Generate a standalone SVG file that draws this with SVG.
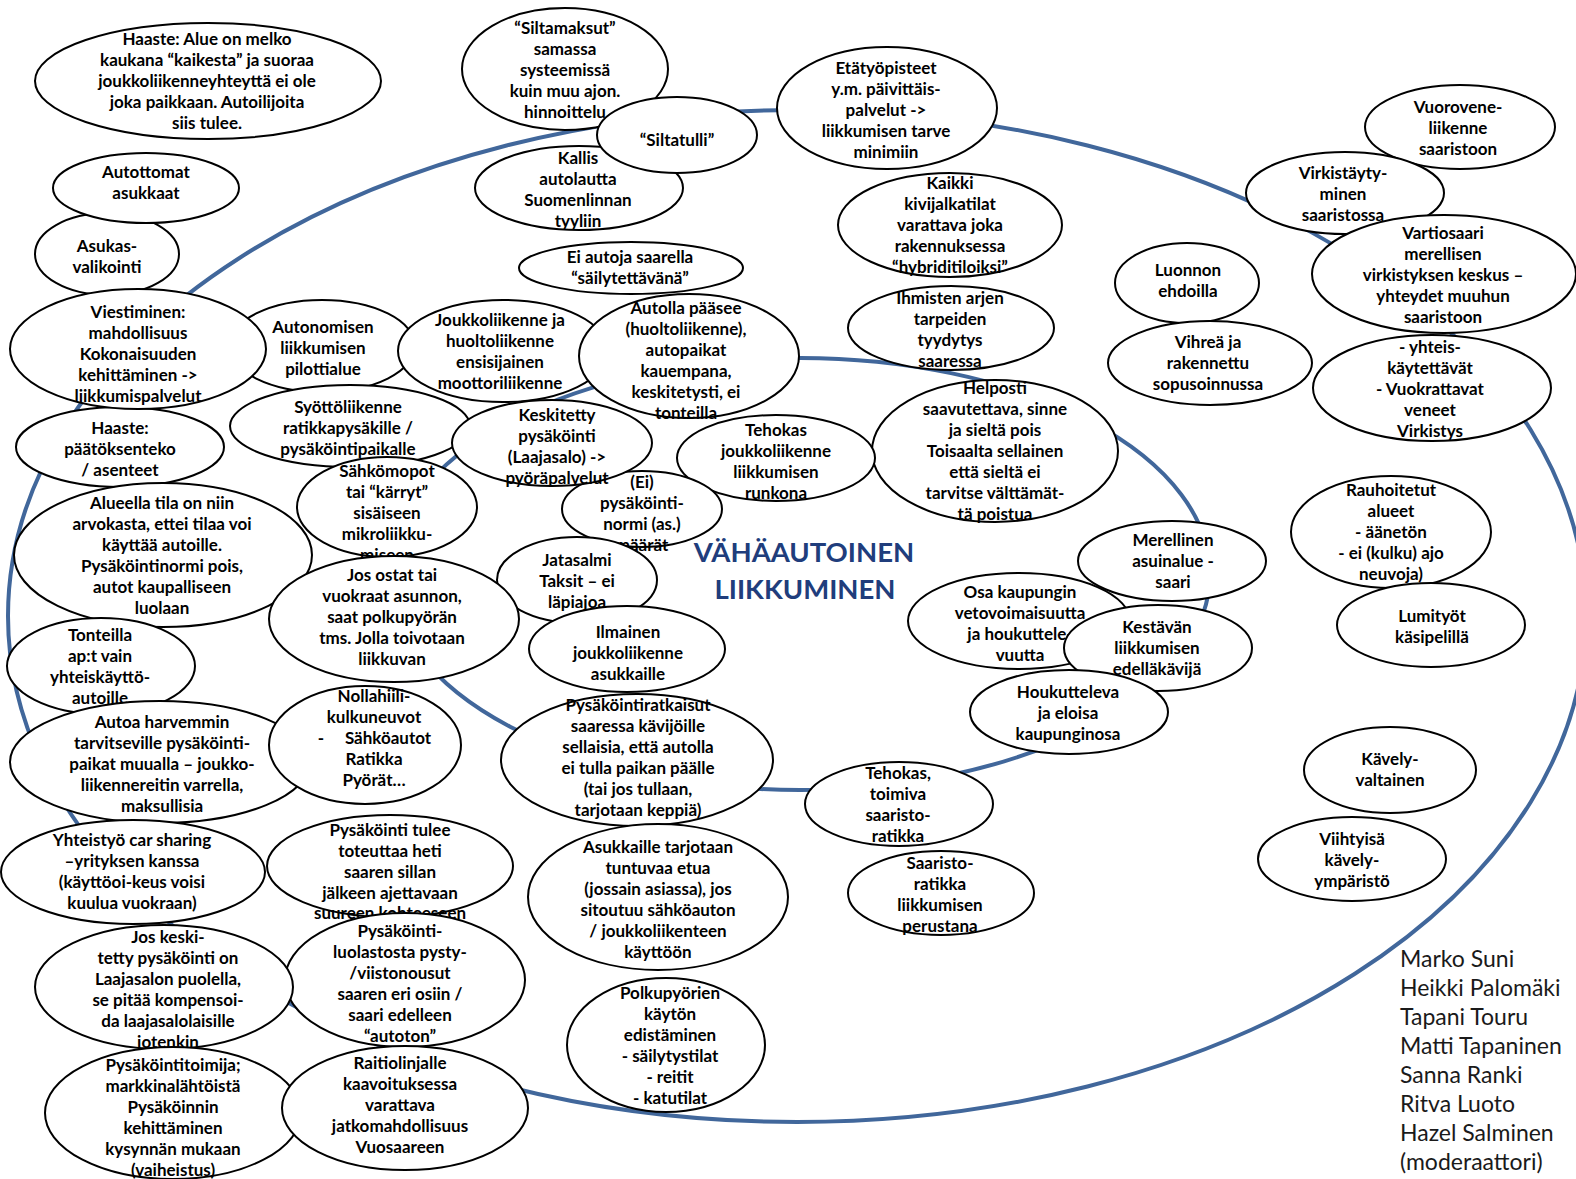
<svg xmlns="http://www.w3.org/2000/svg" width="1576" height="1179" viewBox="0 0 1576 1179">
<style>
.n ellipse{fill:#fff;stroke:#000;stroke-width:2}
.n text{font-family:Lato,"Liberation Sans",sans-serif;font-weight:700;font-size:17px;text-anchor:middle;fill:#000}
.ring{fill:none;stroke:#41679B;stroke-width:4}
.title{font-family:Lato,"Liberation Sans",sans-serif;font-weight:700;font-size:27.5px;text-anchor:middle;fill:#203D7C}
.names{font-family:Lato,"Liberation Sans",sans-serif;font-weight:400;font-size:23px;fill:#1a1a1a}
</style>
<rect width="1576" height="1179" fill="#fff"/>
<g id="connectors">
<ellipse class="ring" cx="797" cy="616" rx="789" ry="506"/>
<ellipse class="ring" cx="800" cy="574" rx="410" ry="216"/>
</g>
<g id="title"><text class="title" x="804" y="562">VÄHÄAUTOINEN</text><text class="title" x="805" y="599">LIIKKUMINEN</text></g>

<g id="n8" class="n"><ellipse cx="565" cy="69" rx="103" ry="61"/><text x="565" y="34"><tspan x="565">“Siltamaksut”</tspan><tspan x="565" dy="21">samassa</tspan><tspan x="565" dy="21">systeemissä</tspan><tspan x="565" dy="21">kuin muu ajon.</tspan><tspan x="565" dy="21">hinnoittelu</tspan></text></g>
<g id="n10" class="n"><ellipse cx="579" cy="188" rx="104" ry="42"/><text x="578" y="164"><tspan x="578">Kallis</tspan><tspan x="578" dy="21">autolautta</tspan><tspan x="578" dy="21">Suomenlinnan</tspan><tspan x="578" dy="21">tyyliin</tspan></text></g>
<g id="n9" class="n"><ellipse cx="677" cy="135" rx="80" ry="38"/><text x="677" y="146">“Siltatulli”</text></g>
<g id="n1" class="n"><ellipse cx="208" cy="81" rx="173" ry="58"/><text x="207" y="45"><tspan x="207">Haaste: Alue on melko</tspan><tspan x="207" dy="21">kaukana “kaikesta” ja suoraa</tspan><tspan x="207" dy="21">joukkoliikenneyhteyttä ei ole</tspan><tspan x="207" dy="21">joka paikkaan. Autoilijoita</tspan><tspan x="207" dy="21">siis tulee.</tspan></text></g>
<g id="n3" class="n"><ellipse cx="107" cy="254" rx="72" ry="41"/><text x="107" y="252"><tspan x="107">Asukas-</tspan><tspan x="107" dy="21">valikointi</tspan></text></g>
<g id="n2" class="n"><ellipse cx="146" cy="188" rx="93" ry="35"/><text x="146" y="178"><tspan x="146">Autottomat</tspan><tspan x="146" dy="21">asukkaat</tspan></text></g>
<g id="n5" class="n"><ellipse cx="322" cy="346" rx="93" ry="46"/><text x="323" y="333"><tspan x="323">Autonomisen</tspan><tspan x="323" dy="21">liikkumisen</tspan><tspan x="323" dy="21">pilottialue</tspan></text></g>
<g id="n21" class="n"><ellipse cx="120" cy="447" rx="104" ry="40"/><text x="120" y="434"><tspan x="120">Haaste:</tspan><tspan x="120" dy="21">päätöksenteko</tspan><tspan x="120" dy="21">/ asenteet</tspan></text></g>
<g id="n4" class="n"><ellipse cx="138" cy="349" rx="128" ry="60"/><text x="138" y="318"><tspan x="138">Viestiminen:</tspan><tspan x="138" dy="21">mahdollisuus</tspan><tspan x="138" dy="21">Kokonaisuuden</tspan><tspan x="138" dy="21">kehittäminen -&gt;</tspan><tspan x="138" dy="21">liikkumispalvelut</tspan></text></g>
<g id="n11" class="n"><ellipse cx="631" cy="268" rx="112" ry="26"/><text x="630" y="263"><tspan x="630">Ei autoja saarella</tspan><tspan x="630" dy="21">“säilytettävänä”</tspan></text></g>
<g id="n6" class="n"><ellipse cx="503" cy="351" rx="105" ry="51"/><text x="500" y="326"><tspan x="500">Joukkoliikenne ja</tspan><tspan x="500" dy="21">huoltoliikenne</tspan><tspan x="500" dy="21">ensisijainen</tspan><tspan x="500" dy="21">moottoriliikenne</tspan></text></g>
<g id="n7" class="n"><ellipse cx="689" cy="356" rx="110" ry="62"/><text x="686" y="314"><tspan x="686">Autolla pääsee</tspan><tspan x="686" dy="21">(huoltoliikenne),</tspan><tspan x="686" dy="21">autopaikat</tspan><tspan x="686" dy="21">kauempana,</tspan><tspan x="686" dy="21">keskitetysti, ei</tspan><tspan x="686" dy="21">tonteilla</tspan></text></g>
<g id="n12" class="n"><ellipse cx="887" cy="108" rx="110" ry="61"/><text x="886" y="74"><tspan x="886">Etätyöpisteet</tspan><tspan x="886" dy="21">y.m. päivittäis-</tspan><tspan x="886" dy="21">palvelut -&gt;</tspan><tspan x="886" dy="21">liikkumisen tarve</tspan><tspan x="886" dy="21">minimiin</tspan></text></g>
<g id="n13" class="n"><ellipse cx="950" cy="225" rx="112" ry="52"/><text x="950" y="189"><tspan x="950">Kaikki</tspan><tspan x="950" dy="21">kivijalkatilat</tspan><tspan x="950" dy="21">varattava joka</tspan><tspan x="950" dy="21">rakennuksessa</tspan><tspan x="950" dy="21">“hybriditiloiksi”</tspan></text></g>
<g id="n14" class="n"><ellipse cx="951" cy="328" rx="103" ry="42"/><text x="950" y="304"><tspan x="950">Ihmisten arjen</tspan><tspan x="950" dy="21">tarpeiden</tspan><tspan x="950" dy="21">tyydytys</tspan><tspan x="950" dy="21">saaressa</tspan></text></g>
<g id="n15" class="n"><ellipse cx="995" cy="451" rx="123" ry="71"/><text x="995" y="394"><tspan x="995">Helposti</tspan><tspan x="995" dy="21">saavutettava, sinne</tspan><tspan x="995" dy="21">ja sieltä pois</tspan><tspan x="995" dy="21">Toisaalta sellainen</tspan><tspan x="995" dy="21">että sieltä ei</tspan><tspan x="995" dy="21">tarvitse välttämät-</tspan><tspan x="995" dy="21">tä poistua</tspan></text></g>
<g id="n16" class="n"><ellipse cx="776" cy="458" rx="99" ry="43"/><text x="776" y="436"><tspan x="776">Tehokas</tspan><tspan x="776" dy="21">joukkoliikenne</tspan><tspan x="776" dy="21">liikkumisen</tspan><tspan x="776" dy="21">runkona</tspan></text></g>
<g id="n17" class="n"><ellipse cx="350" cy="426" rx="120" ry="41"/><text x="348" y="413"><tspan x="348">Syöttöliikenne</tspan><tspan x="348" dy="21">ratikkapysäkille /</tspan><tspan x="348" dy="21">pysäköintipaikalle</tspan></text></g>
<g id="n19" class="n"><ellipse cx="642" cy="509" rx="80" ry="38"/><text x="642" y="488"><tspan x="642">(Ei)</tspan><tspan x="642" dy="21">pysäköinti-</tspan><tspan x="642" dy="21">normi (as.)</tspan><tspan x="642" dy="21">määrät</tspan></text></g>
<g id="n18" class="n"><ellipse cx="552" cy="443" rx="100" ry="43"/><text x="557" y="421"><tspan x="557">Keskitetty</tspan><tspan x="557" dy="21">pysäköinti</tspan><tspan x="557" dy="21">(Laajasalo) -&gt;</tspan><tspan x="557" dy="21">pyöräpalvelut</tspan></text></g>
<g id="n22" class="n"><ellipse cx="163" cy="555" rx="149" ry="72"/><text x="162" y="509"><tspan x="162">Alueella tila on niin</tspan><tspan x="162" dy="21">arvokasta, ettei tilaa voi</tspan><tspan x="162" dy="21">käyttää autoille.</tspan><tspan x="162" dy="21">Pysäköintinormi pois,</tspan><tspan x="162" dy="21">autot kaupalliseen</tspan><tspan x="162" dy="21">luolaan</tspan></text></g>
<g id="n20" class="n"><ellipse cx="387" cy="507" rx="90" ry="50"/><text x="387" y="477"><tspan x="387">Sähkömopot</tspan><tspan x="387" dy="21">tai “kärryt”</tspan><tspan x="387" dy="21">sisäiseen</tspan><tspan x="387" dy="21">mikroliikku-</tspan><tspan x="387" dy="21">miseen</tspan></text></g>
<g id="n24" class="n"><ellipse cx="577" cy="580" rx="80" ry="43"/><text x="577" y="566"><tspan x="577">Jatasalmi</tspan><tspan x="577" dy="21">Taksit – ei</tspan><tspan x="577" dy="21">läpiajoa</tspan></text></g>
<g id="n23" class="n"><ellipse cx="394" cy="619" rx="125" ry="63"/><text x="392" y="581"><tspan x="392">Jos ostat tai</tspan><tspan x="392" dy="21">vuokraat asunnon,</tspan><tspan x="392" dy="21">saat polkupyörän</tspan><tspan x="392" dy="21">tms. Jolla toivotaan</tspan><tspan x="392" dy="21">liikkuvan</tspan></text></g>
<g id="n25" class="n"><ellipse cx="627" cy="649" rx="98" ry="43"/><text x="628" y="638"><tspan x="628">Ilmainen</tspan><tspan x="628" dy="21">joukkoliikenne</tspan><tspan x="628" dy="21">asukkaille</tspan></text></g>
<g id="n26" class="n"><ellipse cx="101" cy="666" rx="94" ry="48"/><text x="100" y="641"><tspan x="100">Tonteilla</tspan><tspan x="100" dy="21">ap:t vain</tspan><tspan x="100" dy="21">yhteiskäyttö-</tspan><tspan x="100" dy="21">autoille</tspan></text></g>
<g id="n27" class="n"><ellipse cx="160" cy="762" rx="150" ry="61"/><text x="162" y="728"><tspan x="162">Autoa harvemmin</tspan><tspan x="162" dy="21">tarvitseville pysäköinti-</tspan><tspan x="162" dy="21">paikat muualla – joukko-</tspan><tspan x="162" dy="21">liikennereitin varrella,</tspan><tspan x="162" dy="21">maksullisia</tspan></text></g>
<g id="n28" class="n"><ellipse cx="365" cy="745" rx="96" ry="59"/><text x="374" y="702"><tspan x="374">Nollahiili-</tspan><tspan x="374" dy="21">kulkuneuvot</tspan><tspan x="321" dy="21">-</tspan><tspan x="388">Sähköautot</tspan><tspan x="374" dy="21">Ratikka</tspan><tspan x="374" dy="21">Pyörät…</tspan></text></g>
<g id="n29" class="n"><ellipse cx="637" cy="760" rx="136" ry="66"/><text x="638" y="711"><tspan x="638">Pysäköintiratkaisut</tspan><tspan x="638" dy="21">saaressa kävijöille</tspan><tspan x="638" dy="21">sellaisia, että autolla</tspan><tspan x="638" dy="21">ei tulla paikan päälle</tspan><tspan x="638" dy="21">(tai jos tullaan,</tspan><tspan x="638" dy="21">tarjotaan keppiä)</tspan></text></g>
<g id="n30" class="n"><ellipse cx="899" cy="804" rx="94" ry="42"/><text x="898" y="779"><tspan x="898">Tehokas,</tspan><tspan x="898" dy="21">toimiva</tspan><tspan x="898" dy="21">saaristo-</tspan><tspan x="898" dy="21">ratikka</tspan></text></g>
<g id="n31" class="n"><ellipse cx="941" cy="893" rx="93" ry="42"/><text x="940" y="869"><tspan x="940">Saaristo-</tspan><tspan x="940" dy="21">ratikka</tspan><tspan x="940" dy="21">liikkumisen</tspan><tspan x="940" dy="21">perustana</tspan></text></g>
<g id="n32" class="n"><ellipse cx="1172" cy="561" rx="94" ry="40"/><text x="1173" y="546"><tspan x="1173">Merellinen</tspan><tspan x="1173" dy="21">asuinalue -</tspan><tspan x="1173" dy="21">saari</tspan></text></g>
<g id="n33" class="n"><ellipse cx="1019" cy="621" rx="111" ry="48"/><text x="1020" y="598"><tspan x="1020">Osa kaupungin</tspan><tspan x="1020" dy="21">vetovoimaisuutta</tspan><tspan x="1020" dy="21">ja houkuttele-</tspan><tspan x="1020" dy="21">vuutta</tspan></text></g>
<g id="n34" class="n"><ellipse cx="1158" cy="648" rx="94" ry="43"/><text x="1157" y="633"><tspan x="1157">Kestävän</tspan><tspan x="1157" dy="21">liikkumisen</tspan><tspan x="1157" dy="21">edelläkävijä</tspan></text></g>
<g id="n35" class="n"><ellipse cx="1069" cy="712" rx="99" ry="42"/><text x="1068" y="698"><tspan x="1068">Houkutteleva</tspan><tspan x="1068" dy="21">ja eloisa</tspan><tspan x="1068" dy="21">kaupunginosa</tspan></text></g>
<g id="n36" class="n"><ellipse cx="1187" cy="283" rx="72" ry="40"/><text x="1188" y="276"><tspan x="1188">Luonnon</tspan><tspan x="1188" dy="21">ehdoilla</tspan></text></g>
<g id="n37" class="n"><ellipse cx="1210" cy="363" rx="102" ry="42"/><text x="1208" y="348"><tspan x="1208">Vihreä ja</tspan><tspan x="1208" dy="21">rakennettu</tspan><tspan x="1208" dy="21">sopusoinnussa</tspan></text></g>
<g id="n38" class="n"><ellipse cx="1460" cy="127" rx="95" ry="42"/><text x="1458" y="113"><tspan x="1458">Vuorovene-</tspan><tspan x="1458" dy="21">liikenne</tspan><tspan x="1458" dy="21">saaristoon</tspan></text></g>
<g id="n39" class="n"><ellipse cx="1345" cy="193" rx="99" ry="41"/><text x="1343" y="179"><tspan x="1343">Virkistäyty-</tspan><tspan x="1343" dy="21">minen</tspan><tspan x="1343" dy="21">saaristossa</tspan></text></g>
<g id="n40" class="n"><ellipse cx="1444" cy="274" rx="132" ry="59"/><text x="1443" y="239"><tspan x="1443">Vartiosaari</tspan><tspan x="1443" dy="21">merellisen</tspan><tspan x="1443" dy="21">virkistyksen keskus –</tspan><tspan x="1443" dy="21">yhteydet muuhun</tspan><tspan x="1443" dy="21">saaristoon</tspan></text></g>
<g id="n41" class="n"><ellipse cx="1432" cy="388" rx="119" ry="53"/><text x="1430" y="353"><tspan x="1430">- yhteis-</tspan><tspan x="1430" dy="21">käytettävät</tspan><tspan x="1430" dy="21">- Vuokrattavat</tspan><tspan x="1430" dy="21">veneet</tspan><tspan x="1430" dy="21">Virkistys</tspan></text></g>
<g id="n42" class="n"><ellipse cx="1391" cy="532" rx="100" ry="56"/><text x="1391" y="496"><tspan x="1391">Rauhoitetut</tspan><tspan x="1391" dy="21">alueet</tspan><tspan x="1391" dy="21">- äänetön</tspan><tspan x="1391" dy="21">- ei (kulku) ajo</tspan><tspan x="1391" dy="21">neuvoja)</tspan></text></g>
<g id="n43" class="n"><ellipse cx="1431" cy="625" rx="94" ry="42"/><text x="1432" y="622"><tspan x="1432">Lumityöt</tspan><tspan x="1432" dy="21">käsipelillä</tspan></text></g>
<g id="n44" class="n"><ellipse cx="1390" cy="770" rx="86" ry="43"/><text x="1390" y="765"><tspan x="1390">Kävely-</tspan><tspan x="1390" dy="21">valtainen</tspan></text></g>
<g id="n45" class="n"><ellipse cx="1352" cy="859" rx="94" ry="42"/><text x="1352" y="845"><tspan x="1352">Viihtyisä</tspan><tspan x="1352" dy="21">kävely-</tspan><tspan x="1352" dy="21">ympäristö</tspan></text></g>
<g id="n46" class="n"><ellipse cx="133" cy="872" rx="132" ry="52"/><text x="132" y="846"><tspan x="132">Yhteistyö car sharing</tspan><tspan x="132" dy="21">–yrityksen kanssa</tspan><tspan x="132" dy="21">(käyttöoi-keus voisi</tspan><tspan x="132" dy="21">kuulua vuokraan)</tspan></text></g>
<g id="n47" class="n"><ellipse cx="390" cy="866" rx="123" ry="51"/><text x="390" y="836"><tspan x="390">Pysäköinti tulee</tspan><tspan x="390" dy="21">toteuttaa heti</tspan><tspan x="390" dy="21">saaren sillan</tspan><tspan x="390" dy="21">jälkeen ajettavaan</tspan><tspan x="390" dy="20">suureen kohteeseen</tspan></text></g>
<g id="n48" class="n"><ellipse cx="405" cy="980" rx="120" ry="67"/><text x="400" y="937"><tspan x="400">Pysäköinti-</tspan><tspan x="400" dy="21">luolastosta pysty-</tspan><tspan x="400" dy="21">/viistonousut</tspan><tspan x="400" dy="21">saaren eri osiin /</tspan><tspan x="400" dy="21">saari edelleen</tspan><tspan x="400" dy="21">“autoton”</tspan></text></g>
<g id="n49" class="n"><ellipse cx="164" cy="987" rx="129" ry="62"/><text x="168" y="943"><tspan x="168">Jos keski-</tspan><tspan x="168" dy="21">tetty pysäköinti on</tspan><tspan x="168" dy="21">Laajasalon puolella,</tspan><tspan x="168" dy="21">se pitää kompensoi-</tspan><tspan x="168" dy="21">da laajasalolaisille</tspan><tspan x="168" dy="21">jotenkin</tspan></text></g>
<g id="n50" class="n"><ellipse cx="173" cy="1113" rx="128" ry="66"/><text x="173" y="1071"><tspan x="173">Pysäköintitoimija;</tspan><tspan x="173" dy="21">markkinalähtöistä</tspan><tspan x="173" dy="21">Pysäköinnin</tspan><tspan x="173" dy="21">kehittäminen</tspan><tspan x="173" dy="21">kysynnän mukaan</tspan><tspan x="173" dy="21">(vaiheistus)</tspan></text></g>
<g id="n51" class="n"><ellipse cx="405" cy="1108" rx="123" ry="62"/><text x="400" y="1069"><tspan x="400">Raitiolinjalle</tspan><tspan x="400" dy="21">kaavoituksessa</tspan><tspan x="400" dy="21">varattava</tspan><tspan x="400" dy="21">jatkomahdollisuus</tspan><tspan x="400" dy="21">Vuosaareen</tspan></text></g>
<g id="n52" class="n"><ellipse cx="658" cy="897" rx="130" ry="73"/><text x="658" y="853"><tspan x="658">Asukkaille tarjotaan</tspan><tspan x="658" dy="21">tuntuvaa etua</tspan><tspan x="658" dy="21">(jossain asiassa), jos</tspan><tspan x="658" dy="21">sitoutuu sähköauton</tspan><tspan x="658" dy="21">/ joukkoliikenteen</tspan><tspan x="658" dy="21">käyttöön</tspan></text></g>
<g id="n53" class="n"><ellipse cx="666" cy="1045" rx="99" ry="67"/><text x="670" y="999"><tspan x="670">Polkupyörien</tspan><tspan x="670" dy="21">käytön</tspan><tspan x="670" dy="21">edistäminen</tspan><tspan x="670" dy="21">- säilytystilat</tspan><tspan x="670" dy="21">- reitit</tspan><tspan x="670" dy="21">- katutilat</tspan></text></g>

<g id="names"><text class="names" x="1400" y="967"><tspan x="1400">Marko Suni</tspan><tspan x="1400" dy="29">Heikki Palomäki</tspan><tspan x="1400" dy="29">Tapani Touru</tspan><tspan x="1400" dy="29">Matti Tapaninen</tspan><tspan x="1400" dy="29">Sanna Ranki</tspan><tspan x="1400" dy="29">Ritva Luoto</tspan><tspan x="1400" dy="29">Hazel Salminen</tspan><tspan x="1400" dy="29">(moderaattori)</tspan></text></g>
</svg>
